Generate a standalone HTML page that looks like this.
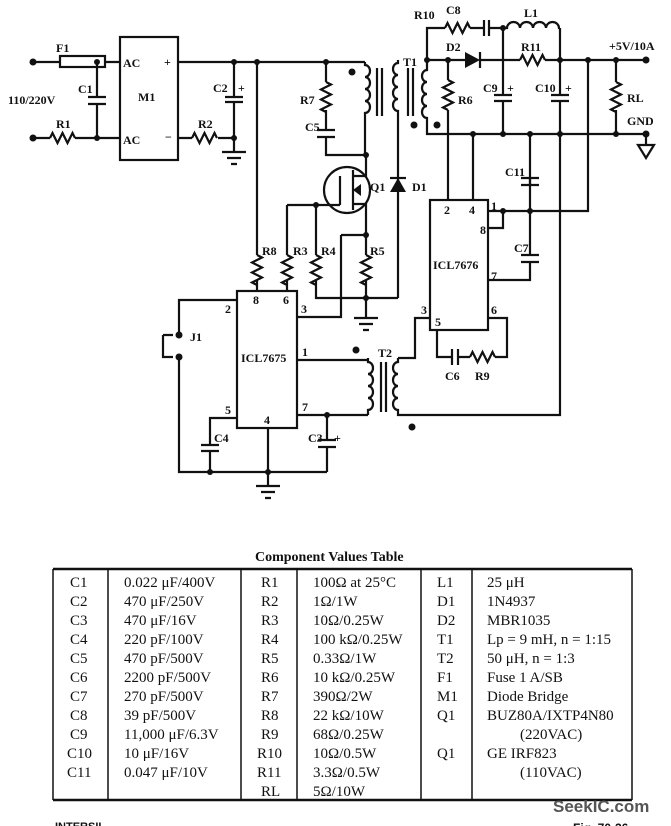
<!DOCTYPE html>
<html><head><meta charset="utf-8"><style>
body{margin:0;background:#fff}
svg{display:block}
text{font-family:"Liberation Serif",serif;font-weight:bold;font-size:12px;fill:#111}
.t{font-weight:normal;font-size:15px}
</style></head><body>
<svg width="671" height="826" viewBox="0 0 671 826" xmlns="http://www.w3.org/2000/svg">
<g fill="none" stroke="#111" stroke-width="2.2">
<path d="M33 62H60M105 62H120M33 138H50M75 138H120M97 62V97M97 104V138"/>
<rect x="60" y="56" width="45" height="11"/>
<path d="M88 97H106M88 104H106"/>
<path d="M50 138l2.5-5l5 10l5-10l5 10l5-10l2.5 5"/>
<rect x="120" y="37" width="58" height="123"/>
<path d="M178 62H365M178 138H192M218 138H234M234 62V97M234 102V152"/>
<path d="M192 138l2.5-5l5 10l5-10l5 10l5-10l2.5 5"/>
<path d="M225 97H243M225 102H243M222 152H246M227 158H241M231 164H237"/>
<path d="M257 62V255M257 280V291"/>
<path d="M257 255l5 2.5l-10 5l10 5l-10 5l10 5l-10 5l5 2.5"/>
<path d="M326 62V82M326 110V130M326 137V155H366"/>
<path d="M326 82l5 2.5l-10 5l10 5l-10 5l10 5l-10 5l5 2.5"/>
<path d="M317 130H335M317 137H335"/>
<path d="M365 62V65a5 6 0 0 1 0 12a5 6 0 0 1 0 12a5 6 0 0 1 0 12a5 6 0 0 1 0 12V155"/>
<path d="M377 68V116M382 68V116M408 68V116M413 68V116"/>
<path d="M398 60V63a5 6 0 0 0 0 12a5 6 0 0 0 0 12a5 6 0 0 0 0 12a5 6 0 0 0 0 12V298"/>
<path d="M427 60V70a5 6 0 0 0 0 12a5 6 0 0 0 0 12a5 6 0 0 0 0 12a5 6 0 0 0 0 12V134H646"/>
<circle cx="347" cy="190" r="23"/>
<path d="M366 155V176H353M353 170V210M353 204H366V235M340 176V205M287 205H340"/>
<path d="M287 205V255M287 280V291M316 205V255M316 280V298H398M366 235V255M366 280V298M341 235H366M341 235V317H297M366 298V318"/>
<path d="M287 255l5 2.5l-10 5l10 5l-10 5l10 5l-10 5l5 2.5M316 255l5 2.5l-10 5l10 5l-10 5l10 5l-10 5l5 2.5M366 255l5 2.5l-10 5l10 5l-10 5l10 5l-10 5l5 2.5"/>
<path d="M354 318H378M359 324H373M363 330H369"/>
<path d="M390 178H406"/>
<rect x="237" y="291" width="60" height="137"/>
<path d="M237 300H179V335M163 335H173M163 335V357H173M179 357V472H327M237 418H210V445M210 451V472M268 428V486M297 360H368M297 415H368M327 415V440M327 447V472"/>
<path d="M201 445H219M201 451H219M318 440H336M318 447H336M256 486H280M261 492H275M265 498H271"/>
<path d="M368 358V362a5 6 0 0 1 0 12a5 6 0 0 1 0 12a5 6 0 0 1 0 12a5 6 0 0 1 0 12V415"/>
<path d="M381 362V412M386 362V412"/>
<path d="M398 358V362a5 6 0 0 0 0 12a5 6 0 0 0 0 12a5 6 0 0 0 0 12a5 6 0 0 0 0 12V415H560V134"/>
<path d="M398 358H415V318H430"/>
<rect x="430" y="200" width="58" height="130"/>
<path d="M437 330V357H452M458 357H470M495 357H507V318H488"/>
<path d="M452 349V365M458 349V365"/>
<path d="M470 357l2.5-5l5 10l5-10l5 10l5-10l2.5 5"/>
<path d="M448 200V110M448 80V60M473 200V134"/>
<path d="M448 80l5 2.5l-10 5l10 5l-10 5l10 5l-10 5l5 2.5"/>
<path d="M488 211H588V60M488 228H503V211M488 280H530V262M530 255V211M530 185V134"/>
<path d="M521 255H539M521 262H539M521 178H539M521 185H539M530 211V178"/>
<path d="M427 60H465M480 60H520M545 60H646M427 60V28H445M470 28H484M489 28H503M503 28V95M503 101V134M560 28V60M560 60V95M560 101V134M616 60V82M616 110V134"/>
<path d="M445 28l2.5-5l5 10l5-10l5 10l5-10l2.5 5M520 60l2.5-5l5 10l5-10l5 10l5-10l2.5 5M616 82l5 2.5l-10 5l10 5l-10 5l10 5l-10 5l5 2.5"/>
<path d="M484 20V36M489 20V36"/>
<path d="M503 28H507a6.5 6 0 0 1 13 0a6.5 6 0 0 1 13 0a6.5 6 0 0 1 13 0a6.5 6 0 0 1 13 0H560"/>
<path d="M480 52V68"/>
<path d="M494 95H512M494 101H512M551 95H569M551 101H569"/>
<path d="M646 134V145M638 145H654L646 158Z"/>
<path d="M53 569H632M53 800H632" stroke-width="2.5"/>
<path d="M53 569V800M108 569V800M241 569V800M297 569V800M421 569V800M472 569V800M632 569V800" stroke-width="1.5"/>
</g>
<g fill="#111">
<polygon points="465,52 465,68 480,60"/>
<polygon points="390,192 406,192 398,178"/>
<polygon points="353,190 361,184 361,196"/>
<circle cx="33" cy="62" r="3.5"/><circle cx="33" cy="138" r="3.5"/>
<circle cx="97" cy="62" r="3"/><circle cx="97" cy="138" r="3"/>
<circle cx="234" cy="62" r="3"/><circle cx="257" cy="62" r="3"/><circle cx="326" cy="62" r="3"/><circle cx="234" cy="138" r="3"/>
<circle cx="366" cy="155" r="3"/><circle cx="366" cy="235" r="3"/><circle cx="316" cy="205" r="3"/><circle cx="366" cy="298" r="3"/>
<circle cx="352" cy="72" r="3.5"/><circle cx="414" cy="125" r="3.5"/><circle cx="437" cy="125" r="3.5"/>
<circle cx="427" cy="60" r="3"/><circle cx="448" cy="60" r="3"/><circle cx="503" cy="28" r="3"/><circle cx="560" cy="60" r="3"/><circle cx="588" cy="60" r="3"/><circle cx="616" cy="60" r="3"/><circle cx="646" cy="60" r="3.5"/>
<circle cx="473" cy="134" r="3"/><circle cx="503" cy="134" r="3"/><circle cx="530" cy="134" r="3"/><circle cx="560" cy="134" r="3"/><circle cx="616" cy="134" r="3"/><circle cx="646" cy="134" r="3.5"/>
<circle cx="503" cy="211" r="3"/><circle cx="530" cy="211" r="3"/>
<circle cx="179" cy="335" r="3.5"/><circle cx="179" cy="357" r="3.5"/>
<circle cx="210" cy="472" r="3"/><circle cx="268" cy="472" r="3"/><circle cx="327" cy="415" r="3"/>
<circle cx="356" cy="350" r="3.5"/><circle cx="412" cy="427" r="3.5"/>
</g>
<text x="56" y="52">F1</text><text x="8" y="104">110/220V</text><text x="78" y="93">C1</text><text x="56" y="128">R1</text>
<text x="123" y="67">AC</text><text x="123" y="144">AC</text><text x="138" y="101">M1</text><text x="164" y="66">+</text><text x="165" y="141">−</text>
<text x="213" y="92">C2</text><text x="238" y="92">+</text><text x="198" y="128">R2</text>
<text x="300" y="104">R7</text><text x="305" y="131">C5</text><text x="403" y="66">T1</text>
<text x="370" y="191">Q1</text><text x="412" y="191">D1</text>
<text x="262" y="255">R8</text><text x="293" y="255">R3</text><text x="321" y="255">R4</text><text x="370" y="255">R5</text>
<text x="253" y="304">8</text><text x="283" y="304">6</text><text x="225" y="313">2</text><text x="301" y="313">3</text><text x="302" y="356">1</text><text x="302" y="411">7</text><text x="225" y="414">5</text><text x="264" y="424">4</text>
<text x="241" y="362">ICL7675</text><text x="190" y="341">J1</text><text x="214" y="442">C4</text><text x="308" y="442">C3</text><text x="334" y="442">+</text>
<text x="378" y="357">T2</text>
<text x="444" y="214">2</text><text x="469" y="214">4</text><text x="491" y="210">1</text><text x="480" y="234">8</text><text x="491" y="280">7</text><text x="421" y="314">3</text><text x="435" y="326">5</text><text x="491" y="314">6</text>
<text x="433" y="269">ICL7676</text><text x="445" y="380">C6</text><text x="475" y="380">R9</text>
<text x="414" y="19">R10</text><text x="446" y="14">C8</text><text x="524" y="17">L1</text><text x="446" y="51">D2</text><text x="521" y="51">R11</text>
<text x="458" y="104">R6</text><text x="483" y="92">C9</text><text x="507" y="92">+</text><text x="535" y="92">C10</text><text x="565" y="92">+</text>
<text x="627" y="102">RL</text><text x="609" y="50">+5V/10A</text><text x="627" y="125">GND</text>
<text x="505" y="176">C11</text><text x="514" y="252">C7</text>
<text x="255" y="561" style="font-size:14px">Component Values Table</text>
<g class="t">
<text class="t" x="70" y="587">C1</text><text class="t" x="70" y="606">C2</text><text class="t" x="70" y="625">C3</text><text class="t" x="70" y="644">C4</text><text class="t" x="70" y="663">C5</text><text class="t" x="70" y="682">C6</text><text class="t" x="70" y="701">C7</text><text class="t" x="70" y="720">C8</text><text class="t" x="70" y="739">C9</text><text class="t" x="67" y="758">C10</text><text class="t" x="67" y="777">C11</text>
<text class="t" x="124" y="587">0.022 μF/400V</text><text class="t" x="124" y="606">470 μF/250V</text><text class="t" x="124" y="625">470 μF/16V</text><text class="t" x="124" y="644">220 pF/100V</text><text class="t" x="124" y="663">470 pF/500V</text><text class="t" x="124" y="682">2200 pF/500V</text><text class="t" x="124" y="701">270 pF/500V</text><text class="t" x="124" y="720">39 pF/500V</text><text class="t" x="124" y="739">11,000 μF/6.3V</text><text class="t" x="124" y="758">10 μF/16V</text><text class="t" x="124" y="777">0.047 μF/10V</text>
<text class="t" x="261" y="587">R1</text><text class="t" x="261" y="606">R2</text><text class="t" x="261" y="625">R3</text><text class="t" x="261" y="644">R4</text><text class="t" x="261" y="663">R5</text><text class="t" x="261" y="682">R6</text><text class="t" x="261" y="701">R7</text><text class="t" x="261" y="720">R8</text><text class="t" x="261" y="739">R9</text><text class="t" x="257" y="758">R10</text><text class="t" x="257" y="777">R11</text><text class="t" x="261" y="796">RL</text>
<text class="t" x="313" y="587">100Ω at 25°C</text><text class="t" x="313" y="606">1Ω/1W</text><text class="t" x="313" y="625">10Ω/0.25W</text><text class="t" x="313" y="644">100 kΩ/0.25W</text><text class="t" x="313" y="663">0.33Ω/1W</text><text class="t" x="313" y="682">10 kΩ/0.25W</text><text class="t" x="313" y="701">390Ω/2W</text><text class="t" x="313" y="720">22 kΩ/10W</text><text class="t" x="313" y="739">68Ω/0.25W</text><text class="t" x="313" y="758">10Ω/0.5W</text><text class="t" x="313" y="777">3.3Ω/0.5W</text><text class="t" x="313" y="796">5Ω/10W</text>
<text class="t" x="437" y="587">L1</text><text class="t" x="437" y="606">D1</text><text class="t" x="437" y="625">D2</text><text class="t" x="437" y="644">T1</text><text class="t" x="437" y="663">T2</text><text class="t" x="437" y="682">F1</text><text class="t" x="437" y="701">M1</text><text class="t" x="437" y="720">Q1</text><text class="t" x="437" y="758">Q1</text>
<text class="t" x="487" y="587">25 μH</text><text class="t" x="487" y="606">1N4937</text><text class="t" x="487" y="625">MBR1035</text><text class="t" x="487" y="644">Lp = 9 mH, n = 1:15</text><text class="t" x="487" y="663">50 μH, n = 1:3</text><text class="t" x="487" y="682">Fuse 1 A/SB</text><text class="t" x="487" y="701">Diode Bridge</text><text class="t" x="487" y="720">BUZ80A/IXTP4N80</text><text class="t" x="520" y="739">(220VAC)</text><text class="t" x="487" y="758">GE IRF823</text><text class="t" x="520" y="777">(110VAC)</text>
</g>
<text x="553" y="812" style="font-family:'Liberation Sans',sans-serif;font-size:17px;fill:#555">SeekIC.com</text>
<text x="55" y="830" style="font-family:'Liberation Sans',sans-serif;font-size:11px">INTERSIL</text>
<text x="573" y="832" style="font-family:'Liberation Sans',sans-serif;font-size:12px">Fig. 70-26</text>
</svg>
</body></html>
